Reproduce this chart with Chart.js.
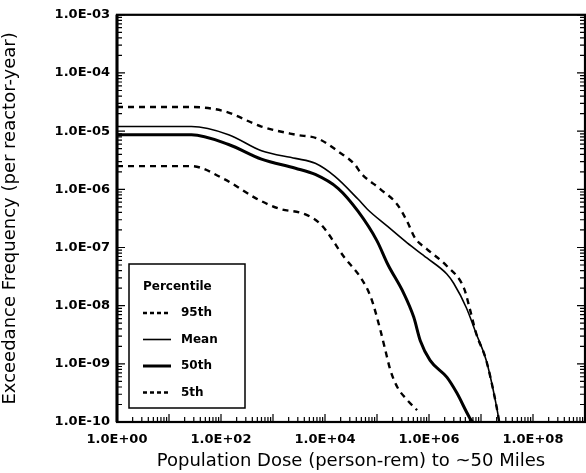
<!DOCTYPE html>
<html><head><meta charset="utf-8">
<script src="https://cdn.jsdelivr.net/npm/chart.js@4.4.1/dist/chart.umd.min.js"></script>
<style>html,body{margin:0;padding:0;background:#fff;overflow:hidden}</style>
</head><body>
<canvas id="c" width="586" height="473"></canvas>
<script>
// ---- data ----
const seriesLabels = ['95th', 'Mean', '50th', '5th'];

const p95Dose = [1, 27, 115, 600, 2700, 7400, 17800, 37000, 49000, 1.17e5, 2.45e5, 3.8e5, 5.4e5, 9.1e5, 2.2e6, 4.7e6, 6.0e6, 8.1e6, 1.26e7, 2.0e7, 2.24e7];
const p95Freq = [2.6e-5, 2.6e-5, 2.2e-5, 1.2e-5, 8.7e-6, 7.4e-6, 4.5e-6, 2.7e-6, 1.9e-6, 1.0e-6, 5.5e-7, 2.8e-7, 1.45e-7, 9.4e-8, 4.8e-8, 2.0e-8, 9.3e-9, 3.3e-9, 1.15e-9, 1.8e-10, 1e-10];

const meanDose = [1, 27, 140, 600, 2700, 6500, 15500, 43000, 66000, 1.6e5, 3.8e5, 9.1e5, 2.2e6, 3.0e6, 5.2e6, 8.1e6, 1.26e7, 2.0e7, 2.24e7];
const meanFreq = [1.2e-5, 1.2e-5, 8.7e-6, 4.6e-6, 3.4e-6, 2.8e-6, 1.67e-6, 6.8e-7, 4.5e-7, 2.3e-7, 1.2e-7, 6.6e-8, 3.5e-8, 2.4e-8, 9.3e-9, 3.3e-9, 1.15e-9, 1.8e-10, 1e-10];

const p50Dose = [1, 27, 140, 600, 2700, 6500, 17800, 43000, 1.0e5, 1.6e5, 3.3e5, 5.1e5, 6.8e5, 1.05e6, 2.2e6, 3.4e6, 6.0e6, 6.9e6];
const p50Freq = [8.7e-6, 8.7e-6, 5.9e-6, 3.3e-6, 2.3e-6, 1.8e-6, 1.04e-6, 4.2e-7, 1.3e-7, 5.2e-8, 1.6e-8, 6.3e-9, 2.5e-9, 1.15e-9, 5.9e-10, 3.2e-10, 1.2e-10, 1e-10];

const p5Dose = [1, 27, 115, 470, 1260, 4200, 8300, 24000, 49000, 76000, 1.17e5, 1.45e5, 1.8e5, 2.45e5, 3.8e5, 5.9e5];
const p5Freq = [2.5e-6, 2.5e-6, 1.5e-6, 7.0e-7, 4.7e-7, 3.7e-7, 2.5e-7, 6.6e-8, 3.0e-8, 1.4e-8, 3.7e-9, 1.7e-9, 7.9e-10, 4.0e-10, 2.4e-10, 1.6e-10];

const xTickValues = [1, 1e2, 1e4, 1e6, 1e8];
const xTickLabels = ['1.0E+00', '1.0E+02', '1.0E+04', '1.0E+06', '1.0E+08'];
const yTickValues = [1e-10, 1e-9, 1e-8, 1e-7, 1e-6, 1e-5, 1e-4, 1e-3];
const yTickLabels = ['1.0E-10', '1.0E-09', '1.0E-08', '1.0E-07', '1.0E-06', '1.0E-05', '1.0E-04', '1.0E-03'];

const xTitle = 'Population Dose (person-rem) to ~50 Miles';
const yTitle = 'Exceedance Frequency (per reactor-year)';
const legendTitle = 'Percentile';

// ---- build ----
const pts = (xs, ys) => xs.map((v, i) => ({ x: v, y: ys[i] }));
const styles = [
  { borderWidth: 2.4, borderDash: [6, 5] },
  { borderWidth: 1.6, borderDash: [] },
  { borderWidth: 3, borderDash: [] },
  { borderWidth: 2.4, borderDash: [6, 5] }
];
const seriesData = [pts(p95Dose, p95Freq), pts(meanDose, meanFreq), pts(p50Dose, p50Freq), pts(p5Dose, p5Freq)];

const datasets = seriesLabels.map((lab, i) => ({
  label: lab,
  data: seriesData[i],
  borderColor: '#000',
  backgroundColor: '#000',
  borderWidth: styles[i].borderWidth,
  borderDash: styles[i].borderDash,
  pointRadius: 0,
  fill: false,
  cubicInterpolationMode: 'monotone'
}));

const framePlugin = {
  id: 'frameTicksLegend',
  afterDatasetsDraw(chart) {
    const { ctx, chartArea: a, scales } = chart;
    const x = scales.x, y = scales.y;
    ctx.save();
    ctx.strokeStyle = '#000';
    ctx.lineWidth = 1.2;
    ctx.setLineDash([]);
    ctx.beginPath();
    const xs = Math.log10(x.min), xe = Math.log10(x.max);
    for (let n = Math.floor(xs); n <= xe; n++) {
      for (let k = 1; k <= 9; k++) {
        const v = k * Math.pow(10, n);
        if (v < x.min * 0.999 || v > x.max * 1.001) continue;
        const px = x.getPixelForValue(v);
        const len = k === 1 ? 8 : 5;
        ctx.moveTo(px, a.bottom); ctx.lineTo(px, a.bottom - len);
      }
    }
    const ys = Math.log10(y.min), ye = Math.log10(y.max);
    for (let n = Math.floor(ys); n <= ye; n++) {
      for (let k = 1; k <= 9; k++) {
        const v = k * Math.pow(10, n);
        if (v < y.min * 0.999 || v > y.max * 1.001) continue;
        const py = y.getPixelForValue(v);
        const len = k === 1 ? 8 : 5;
        ctx.moveTo(a.left, py); ctx.lineTo(a.left + len, py);
        ctx.moveTo(a.right, py); ctx.lineTo(a.right - len, py);
      }
    }
    ctx.stroke();
    ctx.lineWidth = 2.2;
    ctx.strokeRect(a.left, a.top, a.right - a.left, a.bottom - a.top);
    ctx.beginPath();
    ctx.lineWidth = 3;
    ctx.moveTo(a.left, a.top); ctx.lineTo(a.left, a.bottom);
    ctx.stroke();

    // legend box
    const bx = a.left + 12, by = a.bottom - 158, bw = 116, bh = 144;
    ctx.fillStyle = '#fff';
    ctx.fillRect(bx, by, bw, bh);
    ctx.lineWidth = 1.5;
    ctx.strokeRect(bx, by, bw, bh);
    ctx.fillStyle = '#000';
    ctx.font = 'bold 12px "DejaVu Sans"';
    ctx.textBaseline = 'middle';
    ctx.textAlign = 'left';
    ctx.fillText(legendTitle, bx + 14, by + 23);
    chart.data.datasets.forEach((ds, i) => {
      const ly = by + 49 + i * 26.5;
      ctx.beginPath();
      ctx.lineWidth = ds.borderWidth;
      ctx.setLineDash(ds.borderDash && ds.borderDash.length ? [4, 3] : []);
      ctx.moveTo(bx + 14, ly); ctx.lineTo(bx + 42, ly);
      ctx.stroke();
      ctx.setLineDash([]);
      ctx.fillText(ds.label, bx + 52, ly);
    });
    ctx.restore();
  }
};

new Chart(document.getElementById('c'), {
  type: 'line',
  data: { datasets },
  options: {
    responsive: false,
    animation: false,
    layout: { padding: { top: 12, right: 1, left: 0, bottom: 0 } },
    plugins: { legend: { display: false }, tooltip: { enabled: false } },
    scales: {
      x: {
        type: 'logarithmic', min: 1, max: 1e9,
        afterBuildTicks: s => { s.ticks = xTickValues.map(v => ({ value: v })); },
        afterFit: s => { s.height = 51; },
        grid: { display: false, drawTicks: false },
        border: { display: false },
        ticks: {
          autoSkip: false, maxRotation: 0, padding: 10, color: '#000',
          font: { family: 'DejaVu Sans', size: 13, weight: 'bold' },
          callback: (v, i) => xTickLabels[i]
        },
        title: {
          display: true, text: xTitle, color: '#000',
          font: { family: 'DejaVu Sans', size: 18 },
          padding: { top: 0, bottom: 1 }
        }
      },
      y: {
        type: 'logarithmic', min: 1e-10, max: 1e-3,
        afterBuildTicks: s => { s.ticks = yTickValues.map(v => ({ value: v })); },
        afterFit: s => { s.width = 117; },
        grid: { display: false, drawTicks: false },
        border: { display: false },
        ticks: {
          autoSkip: false, padding: 7, color: '#000',
          font: { family: 'DejaVu Sans', size: 13, weight: 'bold' },
          callback: (v, i) => yTickLabels[i]
        },
        title: {
          display: true, text: yTitle, color: '#000',
          font: { family: 'DejaVu Sans', size: 18 },
          padding: { top: 0, bottom: 0 }
        }
      }
    }
  },
  plugins: [framePlugin]
});
</script>
</body></html>
